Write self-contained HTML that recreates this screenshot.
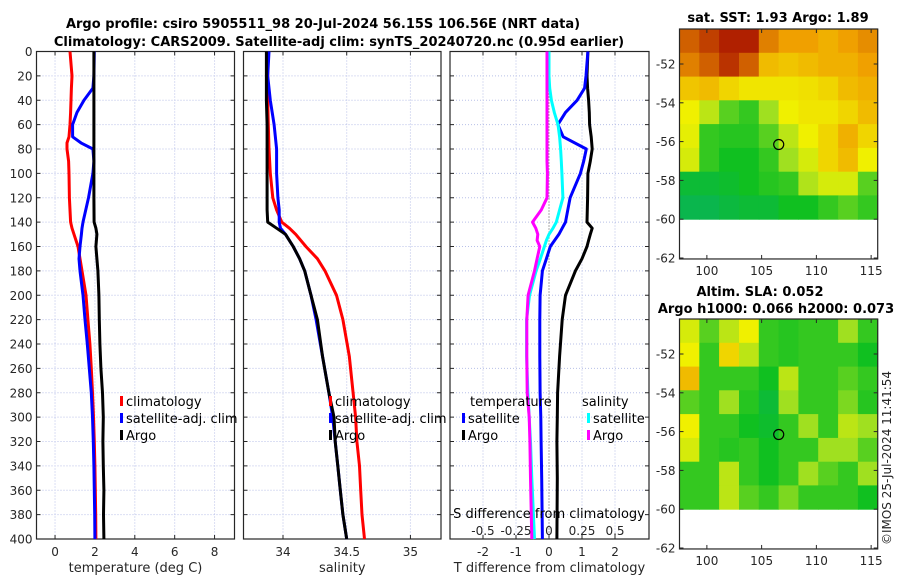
<!DOCTYPE html>
<html><head><meta charset="utf-8"><style>
body{margin:0;background:#fff;}
svg{display:block;font-family:"DejaVu Sans","Liberation Sans",sans-serif;}
</style></head><body>
<svg id="fig" width="900" height="580" viewBox="0 0 900 580" xmlns="http://www.w3.org/2000/svg">
<text x="323" y="28" text-anchor="middle" font-weight="bold" font-size="13" fill="#000">Argo profile: csiro 5905511_98 20-Jul-2024 56.15S 106.56E (NRT data)</text>
<text x="339" y="46" text-anchor="middle" font-weight="bold" font-size="13" fill="#000">Climatology: CARS2009. Satellite-adj clim: synTS_20240720.nc (0.95d earlier)</text>
<text x="778" y="22" text-anchor="middle" font-weight="bold" font-size="13">sat. SST: 1.93 Argo: 1.89</text>
<text x="760" y="296" text-anchor="middle" font-weight="bold" font-size="13">Altim. SLA: 0.052</text>
<text x="776" y="313" text-anchor="middle" font-weight="bold" font-size="13">Argo h1000: 0.066 h2000: 0.073</text>
<text transform="translate(891,458) rotate(-90)" text-anchor="middle" font-size="12" fill="#262626">©IMOS 25-Jul-2024 11:41:54</text>
<g id="layer"></g>
</svg>
<script>
// ---- depth profile data ----
const depthT = [0,20,30,40,50,60,70,75,80,90,100,120,140,145,150,160,170,180,200,220,240,260,280,300,320,340,360,380,400];
const tempArgo = [1.95,1.95,1.95,1.95,1.95,1.95,1.95,1.95,1.95,1.95,1.95,1.95,1.96,2.05,2.1,2.05,2.1,2.15,2.2,2.22,2.25,2.3,2.38,2.42,2.4,2.42,2.45,2.43,2.45];
const tempClim = [0.75,0.85,0.82,0.8,0.78,0.75,0.7,0.6,0.6,0.68,0.7,0.72,0.78,0.85,0.95,1.15,1.25,1.35,1.55,1.65,1.75,1.82,1.88,1.93,1.97,2.0,2.02,2.04,2.05];
const tempSat = [1.97,1.95,1.9,1.45,1.1,0.88,0.88,1.3,1.9,1.95,1.9,1.68,1.4,1.35,1.32,1.25,1.2,1.25,1.4,1.5,1.62,1.72,1.82,1.88,1.92,1.95,1.97,1.99,2.0];
const depthS = [0,20,40,60,80,100,120,130,140,145,150,160,170,180,200,220,250,280,300,320,340,360,380,400];
const salArgo = [33.87,33.87,33.87,33.875,33.875,33.875,33.875,33.875,33.88,33.95,34.02,34.08,34.13,34.17,34.22,34.27,34.31,34.36,34.4,34.41,34.43,34.45,34.47,34.5];
const salClim = [33.88,33.88,33.88,33.885,33.89,33.9,33.92,33.95,33.99,34.05,34.1,34.18,34.27,34.33,34.42,34.47,34.52,34.55,34.57,34.58,34.6,34.61,34.62,34.64];
const salSat = [33.89,33.88,33.9,33.93,33.95,33.95,33.96,33.97,33.97,33.98,34.02,34.08,34.13,34.17,34.22,34.26,34.31,34.36,34.39,34.41,34.43,34.45,34.47,34.5];
const depthD = [0,20,30,40,50,60,70,80,90,100,120,130,140,145,150,155,160,170,180,200,220,250,280,300,320,350,400];
const dTArgo = [1.18,1.15,1.17,1.2,1.22,1.23,1.28,1.31,1.25,1.18,1.17,1.16,1.15,1.31,1.25,1.2,1.15,1.0,0.8,0.5,0.4,0.32,0.26,0.25,0.24,0.25,0.24];
const dTSat = [1.18,1.12,1.08,0.85,0.5,0.27,0.43,1.13,1.05,0.95,0.64,0.57,0.5,0.4,0.3,0.17,0.04,-0.08,-0.2,-0.27,-0.28,-0.28,-0.27,-0.25,-0.24,-0.22,-0.2];
const dSSat = [0,0,0.005,0.018,0.04,0.068,0.08,0.088,0.093,0.098,0.105,0.08,0.055,0.03,0.0,-0.02,-0.035,-0.065,-0.098,-0.148,-0.17,-0.17,-0.16,-0.15,-0.14,-0.13,-0.11];
const dSArgo = [-0.015,-0.015,-0.015,-0.015,-0.015,-0.015,-0.015,-0.015,-0.015,-0.012,-0.015,-0.058,-0.125,-0.1,-0.085,-0.09,-0.07,-0.09,-0.11,-0.158,-0.168,-0.168,-0.165,-0.15,-0.145,-0.14,-0.13];
const depthTicks = [0,20,40,60,80,100,120,140,160,180,200,220,240,260,280,300,320,340,360,380,400];
const tempTicks = [0,2,4,6,8];
const salTicks = [34,34.5,35];
const salTickLabels = ["34","34.5","35"];
const diffTicks = [-2,-1,0,1,2];
const sDiffTicks = [-0.5,-0.25,0,0.25,0.5];
const sDiffLabels = ["-0.5","-0.25","0","0.25","0.5"];
// ---- map data (rows north->south, cols west->east), colour index 0..1 ----
const sstGrid = [
 [0.85,0.9,0.95,0.95,0.8,0.75,0.75,0.72,0.75,0.78],
 [0.8,0.85,0.92,0.85,0.7,0.68,0.7,0.72,0.72,0.75],
 [0.68,0.7,0.65,0.62,0.62,0.62,0.63,0.65,0.7,0.72],
 [0.6,0.5,0.35,0.3,0.45,0.6,0.62,0.62,0.65,0.7],
 [0.58,0.3,0.28,0.28,0.35,0.5,0.6,0.65,0.72,0.65],
 [0.55,0.3,0.25,0.25,0.3,0.45,0.55,0.65,0.7,0.6],
 [0.2,0.2,0.22,0.25,0.28,0.3,0.48,0.55,0.55,0.35],
 [0.15,0.15,0.18,0.2,0.2,0.25,0.25,0.3,0.35,0.3]];
const slaGrid = [
 [0.55,0.35,0.5,0.6,0.3,0.28,0.3,0.3,0.45,0.3],
 [0.6,0.3,0.65,0.5,0.3,0.28,0.3,0.3,0.3,0.25],
 [0.7,0.3,0.3,0.3,0.25,0.5,0.3,0.3,0.35,0.3],
 [0.35,0.3,0.45,0.28,0.2,0.45,0.3,0.3,0.4,0.28],
 [0.6,0.3,0.3,0.25,0.22,0.3,0.45,0.3,0.5,0.45],
 [0.55,0.3,0.28,0.3,0.25,0.3,0.3,0.45,0.45,0.35],
 [0.3,0.3,0.5,0.3,0.25,0.3,0.45,0.35,0.3,0.45],
 [0.3,0.3,0.5,0.35,0.3,0.4,0.3,0.3,0.3,0.25]];
const lonTicks = [100,105,110,115];
const latTicks = [-52,-54,-56,-58,-60,-62];
const argoLon = 106.56, argoLat = -56.15;

const NS="http://www.w3.org/2000/svg";
const layer=document.getElementById('layer');
function mk(tag,attrs,parent){const e=document.createElementNS(NS,tag);for(const k in attrs)e.setAttribute(k,attrs[k]);(parent||layer).appendChild(e);return e;}
const Y0=51.5,Y1=539;
const yD=d=>Y0+(Y1-Y0)*d/400;

function panel(name,x0,x1,xmin,xmax){
  const sx=v=>x0+(x1-x0)*(v-xmin)/(xmax-xmin);
  const g=mk('g',{});
  
  
  return {g,sx,x0,x1};
}
function frame(p,xticks,xlabels,title,withYLabels){
  const {g,sx,x0,x1}=p;
  xticks.forEach((t,i)=>{
    const gl=mk('line',{x1:sx(t),x2:sx(t),y1:Y0,y2:Y1,stroke:'#b8c0e8','stroke-width':1,'stroke-dasharray':'1,2'},g);
    
    
    mk('line',{x1:sx(t),x2:sx(t),y1:Y1,y2:Y1-4,stroke:'#262626'},g);
    mk('line',{x1:sx(t),x2:sx(t),y1:Y0,y2:Y0+4,stroke:'#262626'},g);
    const tl=mk('text',{x:sx(t),y:Y1+17,'text-anchor':'middle','font-size':12,fill:'#262626'},g);
    tl.textContent=xlabels[i];
    
    
  });
  depthTicks.forEach(d=>{
    mk('line',{x1:x0,x2:x1,y1:yD(d),y2:yD(d),stroke:'#b8c0e8','stroke-width':1,'stroke-dasharray':'1,2'},g);
    mk('line',{x1:x0,x2:x0+4,y1:yD(d),y2:yD(d),stroke:'#262626'},g);
    mk('line',{x1:x1,x2:x1-4,y1:yD(d),y2:yD(d),stroke:'#262626'},g);
    if(withYLabels){
      const tl=mk('text',{x:x0-4,y:yD(d)+4.5,'text-anchor':'end','font-size':12,fill:'#262626'},g);
      tl.textContent=d;
      
      
    }
  });
  const fr=mk('rect',{x:x0,y:Y0,width:x1-x0,height:Y1-Y0,fill:'none',stroke:'#262626','stroke-width':1.2},g);
  
  
  const at=mk('text',{x:(x0+x1)/2,y:Y1+33,'text-anchor':'middle','font-size':13,fill:'#262626'},g);
  at.textContent=title;
  
  
}
function line(p,sx,depths,vals,color,name){
  const pts=depths.map((d,i)=>sx(vals[i]).toFixed(1)+','+yD(d).toFixed(1)).join(' ');
  const l=mk('polyline',{points:pts,fill:'none',stroke:color,'stroke-width':3,'stroke-linejoin':'round'},p.g);
  
  
}
function legend(g,x,y,color,label,name){
  const e=mk('g',{},g);
  
  
  mk('rect',{x:x,y:y-10,width:3,height:10,fill:color},e);
  const t=mk('text',{x:x+6,y:y,'font-size':13,fill:'#000'},e);
  t.textContent=label;
}

// panel 1 temperature
const p1=panel('temperature-panel',36.5,234.5,-0.93,9.0);
frame(p1,tempTicks,tempTicks.map(String),'temperature (deg C)',true);
line(p1,p1.sx,depthT,tempClim,'#ff0000','temp-climatology-line');
line(p1,p1.sx,depthT,tempSat,'#0000ff','temp-satellite-line');
line(p1,p1.sx,depthT,tempArgo,'#000000','temp-argo-line');
legend(p1.g,120,406,'#ff0000','climatology','legend-climatology');
legend(p1.g,120,423,'#0000ff','satellite-adj. clim','legend-satellite-adj');
legend(p1.g,120,440,'#000000','Argo','legend-argo');

// panel 2 salinity
const p2=panel('salinity-panel',243.5,441,33.69,35.24);
frame(p2,salTicks,salTickLabels,'salinity',false);
line(p2,p2.sx,depthS,salClim,'#ff0000','sal-climatology-line');
line(p2,p2.sx,depthS,salSat,'#0000ff','sal-satellite-line');
line(p2,p2.sx,depthS,salArgo,'#000000','sal-argo-line');
legend(p2.g,329,406,'#ff0000','climatology','legend-climatology');
legend(p2.g,329,423,'#0000ff','satellite-adj. clim','legend-satellite-adj');
legend(p2.g,329,440,'#000000','Argo','legend-argo');

// panel 3 differences
const p3=panel('difference-panel',450,649,-3,3.03);
frame(p3,diffTicks,diffTicks.map(String),'T difference from climatology',false);
const sxS=v=>p3.sx(v*4);
const zl=mk('line',{x1:p3.sx(0),x2:p3.sx(0),y1:Y0,y2:Y1,stroke:'#555','stroke-width':1,'stroke-dasharray':'1,2'},p3.g);


line(p3,p3.sx,depthD,dTArgo,'#000000','dT-argo-line');
line(p3,p3.sx,depthD,dTSat,'#0000ff','dT-satellite-line');
line(p3,sxS,depthD,dSSat,'#00ffff','dS-satellite-line');
line(p3,sxS,depthD,dSArgo,'#ff00ff','dS-argo-line');
const lh1=mk('text',{x:470,y:406,'font-size':13},p3.g);lh1.textContent='temperature';


const lh2=mk('text',{x:582,y:406,'font-size':13},p3.g);lh2.textContent='salinity';


legend(p3.g,462,423,'#0000ff','satellite','legend-temp-satellite');
legend(p3.g,462,440,'#000000','Argo','legend-temp-argo');
legend(p3.g,587,423,'#00ffff','satellite','legend-sal-satellite');
legend(p3.g,587,440,'#ff00ff','Argo','legend-sal-argo');
const st=mk('text',{x:549,y:518,'text-anchor':'middle','font-size':13},p3.g);st.textContent='S difference from climatology';


sDiffTicks.forEach((t,i)=>{
  const tl=mk('text',{x:sxS(t),y:535,'text-anchor':'middle','font-size':12,fill:'#262626'},p3.g);
  tl.textContent=sDiffLabels[i];
  
  
});

// maps
const stops=[[0,[0,168,144]],[0.25,[16,192,32]],[0.45,[160,224,32]],[0.6,[240,240,0]],[0.75,[240,160,0]],[1,[160,0,0]]];
function cmap(v){for(let i=1;i<stops.length;i++){if(v<=stops[i][0]){const a=stops[i-1],b=stops[i];const f=(v-a[0])/(b[0]-a[0]);return 'rgb('+a[1].map((c,k)=>Math.round(c+(b[1][k]-c)*f)).join(',')+')';}}return 'rgb(160,0,0)';}
function map(name,top,grid){
  const X0=679.5,X1=877.7,lonMin=97.5,lonMax=115.6;
  const y52=top+35,yStep=(38.8)/2;
  const sx=v=>X0+(X1-X0)*(v-lonMin)/(lonMax-lonMin);
  const sy=v=>y52+(-52-v)*yStep;
  const latTop=-52+(y52-top)/yStep;
  const g=mk('g',{});
  
  
  const rows=grid.length,cols=grid[0].length;
  const dLat=(latTop-(-60))/rows,dLon=(lonMax-lonMin)/cols;
  grid.forEach((row,r)=>row.forEach((v,c)=>{
    const x=sx(lonMin+c*dLon),y=sy(latTop-r*dLat);
    const cell=mk('rect',{x:x.toFixed(1),y:y.toFixed(1),width:(sx(lonMin+(c+1)*dLon)-x+0.5).toFixed(1),height:(sy(latTop-(r+1)*dLat)-y+0.5).toFixed(1),fill:cmap(v)},g);
    
    
  }));
  const bottom=sy(-62.05);
  mk('rect',{x:X0,y:top,width:X1-X0,height:bottom-top,fill:'none',stroke:'#262626','stroke-width':1.2},g);
  lonTicks.forEach(t=>{
    mk('line',{x1:sx(t),x2:sx(t),y1:bottom,y2:bottom-4,stroke:'#262626'},g);
    mk('line',{x1:sx(t),x2:sx(t),y1:top,y2:top+4,stroke:'#262626'},g);
    const tl=mk('text',{x:sx(t),y:bottom+16,'text-anchor':'middle','font-size':12,fill:'#262626'},g);
    tl.textContent=t;
    
    
  });
  latTicks.forEach(t=>{
    mk('line',{x1:X0,x2:X0+4,y1:sy(t),y2:sy(t),stroke:'#262626'},g);
    mk('line',{x1:X1,x2:X1-4,y1:sy(t),y2:sy(t),stroke:'#262626'},g);
    const tl=mk('text',{x:X0-4,y:sy(t)+4.5,'text-anchor':'end','font-size':12,fill:'#262626'},g);
    tl.textContent=t;
    
    
  });
  const mk1=mk('circle',{cx:sx(argoLon),cy:sy(argoLat),r:5,fill:'none',stroke:'#000','stroke-width':1.2},g);
  
  
}
map('sst-map',29,sstGrid);
map('sla-map',319,slaGrid);
</script>
</body></html>
